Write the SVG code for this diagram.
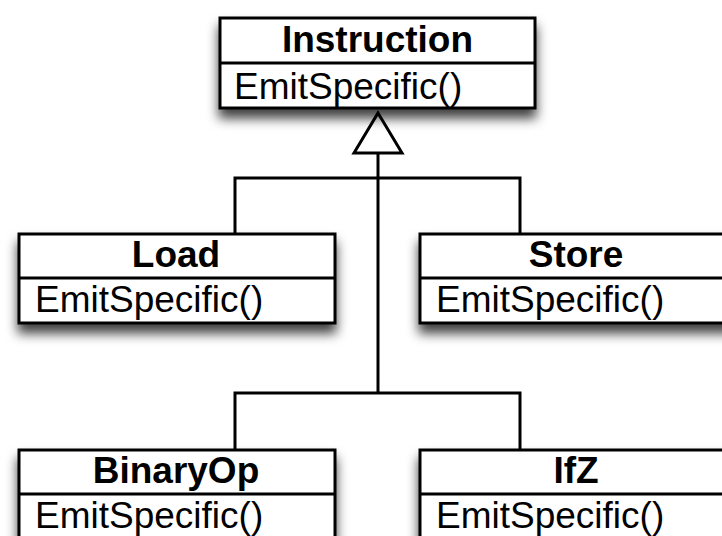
<svg xmlns="http://www.w3.org/2000/svg" width="722" height="536" viewBox="0 0 722 536">
<style>
.box{fill:#fff;stroke:#000;stroke-width:3}
.div{stroke:#000;stroke-width:3}
.name{font-family:"Liberation Sans",Arial,sans-serif;font-weight:bold;font-size:37px;text-anchor:middle;fill:#000}
.op{font-family:"Liberation Sans",Arial,sans-serif;font-size:37px;fill:#000}
.conn{fill:none;stroke:#000;stroke-width:3}
</style>
<defs>
<filter id="sh" x="-20%" y="-30%" width="140%" height="170%">
<feDropShadow dx="0" dy="9" stdDeviation="6" flood-color="#000" flood-opacity="0.75"/>
</filter>
</defs>
<rect width="722" height="536" fill="#fff"/>
<g id="connectors">
<polyline class="conn" points="235,234 235,178 520,178 520,234"/>
<polyline class="conn" points="235,450 235,393 520,393 520,450"/>
<line class="conn" x1="378" y1="153" x2="378" y2="393"/>
<polygon class="conn" style="fill:#fff" points="378,113 402,153 354,153"/>
</g>
<g id="Instruction">
<rect class="box" x="220" y="18" width="315" height="90" filter="url(#sh)"/>
<line class="div" x1="220" y1="63" x2="535" y2="63"/>
<text class="name" x="377.5" y="52">Instruction</text>
<text class="op" x="234" y="99">EmitSpecific()</text>
</g>
<g id="Load">
<rect class="box" x="19" y="234" width="316" height="89" filter="url(#sh)"/>
<line class="div" x1="19" y1="278" x2="335" y2="278"/>
<text class="name" x="176" y="267">Load</text>
<text class="op" x="35" y="312">EmitSpecific()</text>
</g>
<g id="Store">
<rect class="box" x="420" y="234" width="316" height="89" filter="url(#sh)"/>
<line class="div" x1="420" y1="278" x2="736" y2="278"/>
<text class="name" x="576" y="267">Store</text>
<text class="op" x="436" y="312">EmitSpecific()</text>
</g>
<g id="BinaryOp">
<rect class="box" x="19" y="450" width="316" height="89" filter="url(#sh)"/>
<line class="div" x1="19" y1="494" x2="335" y2="494"/>
<text class="name" x="176" y="483">BinaryOp</text>
<text class="op" x="35" y="528">EmitSpecific()</text>
</g>
<g id="IfZ">
<rect class="box" x="420" y="450" width="316" height="89" filter="url(#sh)"/>
<line class="div" x1="420" y1="494" x2="736" y2="494"/>
<text class="name" x="576" y="483">IfZ</text>
<text class="op" x="436" y="528">EmitSpecific()</text>
</g>
</svg>
